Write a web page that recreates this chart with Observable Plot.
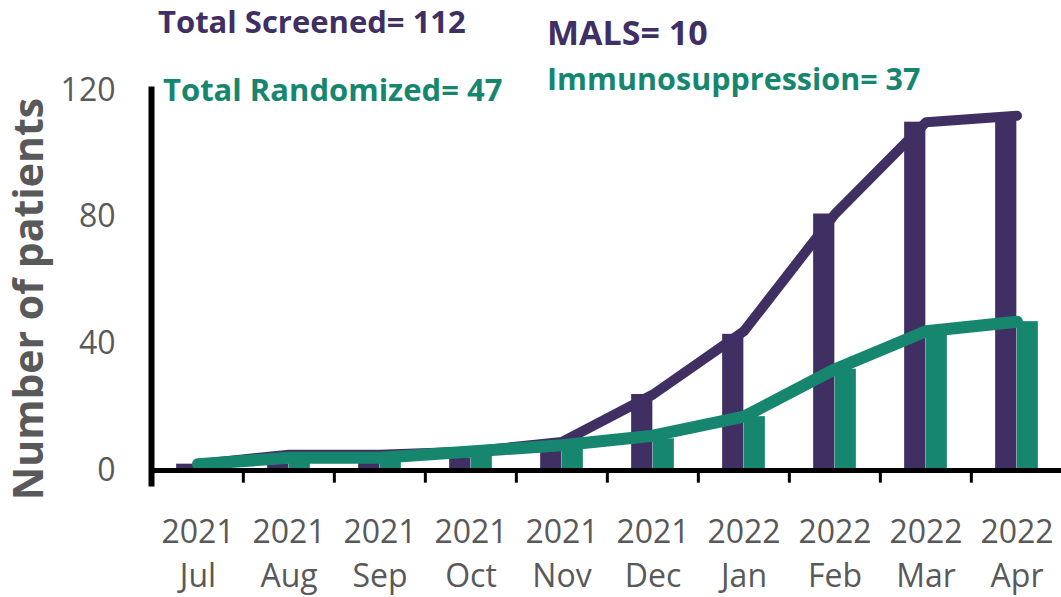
<!DOCTYPE html>
<html><head><meta charset="utf-8">
<script src="https://cdn.jsdelivr.net/npm/d3@7"></script>
<script src="https://cdn.jsdelivr.net/npm/@observablehq/plot@0.6"></script>
<style>
body{margin:0;background:#fff;overflow:hidden}
#wrap{width:1061px;height:597px}
</style></head><body><div id="wrap"></div>
<script>
// ---- data ----
const years = ["2021","2021","2021","2021","2021","2021","2022","2022","2022","2022"];
const monthNames = ["Jul","Aug","Sep","Oct","Nov","Dec","Jan","Feb","Mar","Apr"];
const categories = years.map((y, i) => `${y} ${monthNames[i]}`);
const screenedBars   = [2, 2, 3, 4, 6, 24, 43, 81, 110, 112];
const randomizedBars = [1, 3, 4, 5, 7, 10, 17, 32, 43, 47];
const screenedLine   = [2, 5, 5, 6, 9, 24, 44, 81, 110, 112];
const randomizedLine = [2, 4, 4, 6, 8, 11, 17, 32, 44, 47];
const yTicks = [0, 40, 80, 120];
const summaryLabels = ["Total Screened= 112", "Total Randomized= 47", "MALS= 10", "Immunosuppression= 37"];
const yTitle = "Number of patients";

// ---- layout / style ----
const W = 1061, H = 597;
const PURPLE = "#402F62", GREEN = "#17866F", GRAY = "#595959";
const xRange = [150, 1063];
const bw = (xRange[1] - xRange[0]) / categories.length;
const barW = 21.5;

const rows = categories.map((c, i) => ({
  month: c, sBar: screenedBars[i], rBar: randomizedBars[i], sLine: screenedLine[i], rLine: randomizedLine[i]
}));

const chart = Plot.plot({
  width: W, height: H,
  marginTop: 89, marginBottom: 114, marginLeft: 151, marginRight: 0,
  style: {fontFamily: '"Open Sans", sans-serif', background: "white", overflow: "visible"},
  x: {type: "band", domain: categories, range: xRange, padding: 0},
  y: {domain: [0, 120], range: [470, 90]},
  marks: [
    Plot.barY(rows, {x: "month", y: "sBar", fill: PURPLE, insetLeft: bw / 2 - barW, insetRight: bw / 2}),
    Plot.barY(rows, {x: "month", y: "rBar", fill: GREEN, insetLeft: bw / 2, insetRight: bw / 2 - barW}),
    Plot.line(rows, {x: "month", y: "sLine", stroke: PURPLE, strokeWidth: 10, strokeLinejoin: "round", strokeLinecap: "round"}),
    Plot.line(rows, {x: "month", y: "rLine", stroke: GREEN, strokeWidth: 12, strokeLinejoin: "round", strokeLinecap: "round"}),
    Plot.ruleY([0], {stroke: "black", strokeWidth: 5}),
    Plot.ruleX(categories, {x: d => d, dx: -bw / 2, y1: 0, y2: -4, stroke: "black", strokeWidth: 3}),
    Plot.frame({anchor: "left", stroke: "black", strokeWidth: 6}),
    Plot.axisX({tickSize: 0, tickPadding: 29, fontSize: 32, lineHeight: 1.36, fill: GRAY, label: null,
      tickFormat: d => d.replace(" ", "\n")}),
    Plot.axisY({ticks: yTicks, tickSize: 0, tickPadding: 36, fontSize: 32, fill: GRAY, label: null})
  ]
});
document.getElementById("wrap").appendChild(chart);

// ---- annotations ----
const svg = d3.select(chart);
const annPos = [
  {x: 158, y: 33, size: 31, color: PURPLE},
  {x: 163, y: 101, size: 31, color: GREEN},
  {x: 547, y: 45, size: 34, color: PURPLE},
  {x: 547, y: 90, size: 30.5, color: GREEN}
];
summaryLabels.forEach((t, i) => {
  const p = annPos[i];
  svg.append("text").attr("x", p.x).attr("y", p.y).attr("text-anchor", "start")
    .attr("font-size", p.size).attr("font-weight", 700).attr("fill", p.color)
    .attr("font-family", '"Open Sans", sans-serif').text(t);
});
svg.append("text").attr("transform", "translate(43,299) rotate(-90)")
  .attr("text-anchor", "middle").attr("font-size", 41).attr("font-weight", 700)
  .attr("fill", GRAY).attr("font-family", '"Open Sans", sans-serif').text(yTitle);
</script>
</body></html>
